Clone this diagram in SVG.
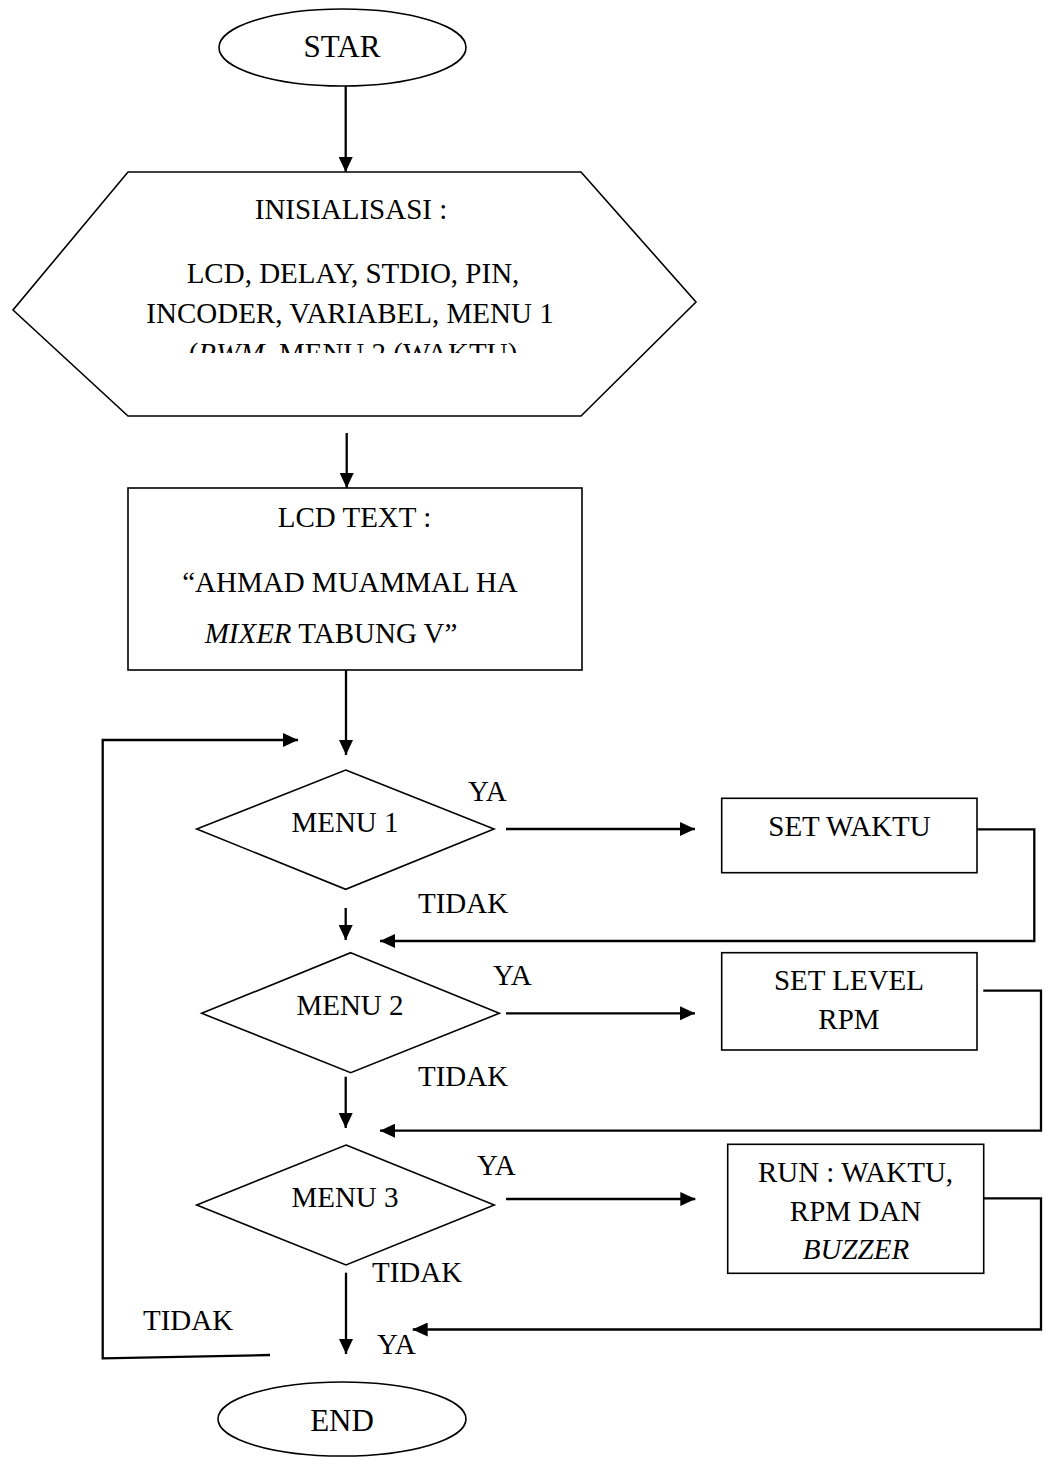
<svg xmlns="http://www.w3.org/2000/svg" width="1046" height="1457" viewBox="0 0 1046 1457">
<style>
text{font-family:"Liberation Serif","Times New Roman",serif;font-size:29px;fill:#000;text-anchor:middle}
.big{font-size:31px}
.it{font-style:italic}
.shape{fill:#fff;stroke:#000;stroke-width:1.6}
.conn{fill:none;stroke:#000;stroke-width:2.3}
.lbl{text-anchor:start}
</style>
<defs>
<marker id="ah" markerUnits="userSpaceOnUse" markerWidth="15" markerHeight="14" refX="15" refY="7" orient="auto">
<path d="M0,0 L15,7 L0,14 z" fill="#000"/>
</marker>
<clipPath id="hexclip"><rect x="0" y="330" width="700" height="23"/></clipPath>
</defs>
<rect width="1046" height="1457" fill="#fff"/>

<g id="connectors">
<line class="conn" x1="345.7" y1="86" x2="345.7" y2="172" marker-end="url(#ah)"/>
<line class="conn" x1="346.7" y1="433" x2="346.7" y2="488" marker-end="url(#ah)"/>
<line class="conn" x1="346" y1="670" x2="346" y2="755" marker-end="url(#ah)"/>
<polyline class="conn" points="270,1355 102.7,1358.3 102.7,740 298,740" marker-end="url(#ah)"/>
<line class="conn" x1="506" y1="829" x2="695" y2="829" marker-end="url(#ah)"/>
<polyline class="conn" points="977,829.3 1034.3,829.3 1034.3,941 380,941" marker-end="url(#ah)"/>
<line class="conn" x1="345.7" y1="908" x2="345.7" y2="940" marker-end="url(#ah)"/>
<line class="conn" x1="506" y1="1013.3" x2="695" y2="1013.3" marker-end="url(#ah)"/>
<polyline class="conn" points="983.3,990.7 1041,990.7 1041,1130.7 380,1130.7" marker-end="url(#ah)"/>
<line class="conn" x1="345.7" y1="1076.7" x2="345.7" y2="1128" marker-end="url(#ah)"/>
<line class="conn" x1="506" y1="1199" x2="695.3" y2="1199" marker-end="url(#ah)"/>
<polyline class="conn" points="983.7,1198.3 1041,1198.3 1041,1329.5 412.7,1329.5" marker-end="url(#ah)"/>
<line class="conn" x1="346" y1="1272.7" x2="346" y2="1354" marker-end="url(#ah)"/>
</g>

<g id="start">
<ellipse class="shape" cx="342.5" cy="47.5" rx="123.5" ry="38.5"/>
<text class="big" x="342" y="57">STAR</text>
</g>

<g id="init">
<polygon class="shape" points="128,172 581,172 696,302 581,416 128,416 13,310"/>
<text x="351" y="219">INISIALISASI :</text>
<text x="353" y="283">LCD, DELAY, STDIO, PIN,</text>
<text x="350" y="323">INCODER, VARIABEL, MENU 1</text>
<text x="353" y="363" clip-path="url(#hexclip)">(<tspan class="it">PWM</tspan>, MENU 2 (WAKTU)</text>
</g>

<g id="lcdtext">
<rect class="shape" x="128" y="488" width="454" height="182"/>
<text x="354.5" y="527">LCD TEXT :</text>
<text x="350" y="592">“AHMAD MUAMMAL HA</text>
<text x="331" y="643"><tspan class="it">MIXER</tspan> TABUNG V”</text>
</g>

<g id="menu1">
<polygon class="shape" points="345.7,770 494,829 345.7,889.3 196.7,829"/>
<text x="345" y="832">MENU 1</text>
</g>

<g id="setwaktu">
<rect class="shape" x="721.7" y="798.3" width="255.3" height="74.4"/>
<text x="849.5" y="836">SET WAKTU</text>
</g>

<g id="menu2">
<polygon class="shape" points="350.7,952.7 499.3,1013.3 350.7,1072.7 201.7,1013.3"/>
<text x="350" y="1015">MENU 2</text>
</g>

<g id="setlevel">
<rect class="shape" x="721.7" y="952.7" width="255.3" height="97.3"/>
<text x="849" y="990">SET LEVEL</text>
<text x="849" y="1029">RPM</text>
</g>

<g id="menu3">
<polygon class="shape" points="346,1145 494.3,1205 346,1265 196.7,1205"/>
<text x="345" y="1207">MENU 3</text>
</g>

<g id="run">
<rect class="shape" x="727.7" y="1144.3" width="256" height="129"/>
<text x="855.5" y="1182">RUN : WAKTU,</text>
<text x="855.5" y="1221">RPM DAN</text>
<text class="it" x="856" y="1259">BUZZER</text>
</g>

<g id="end">
<ellipse class="shape" cx="342" cy="1419" rx="124" ry="37"/>
<text class="big" x="342" y="1431">END</text>
</g>

<g id="labels">
<text class="lbl" x="468" y="801">YA</text>
<text class="lbl" x="418" y="913">TIDAK</text>
<text class="lbl" x="493" y="985">YA</text>
<text class="lbl" x="418" y="1086">TIDAK</text>
<text class="lbl" x="477" y="1175">YA</text>
<text class="lbl" x="372" y="1282">TIDAK</text>
<text class="lbl" x="143" y="1330">TIDAK</text>
<text class="lbl" x="377" y="1354">YA</text>
</g>
</svg>
